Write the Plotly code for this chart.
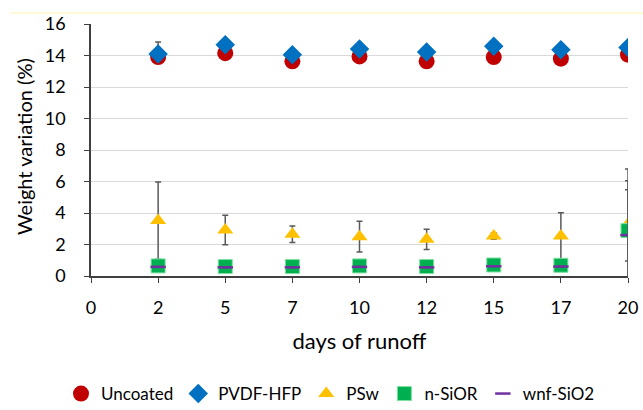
import plotly.graph_objects as go

# ---- data ----
day_labels = ["0", "2", "5", "7", "10", "12", "15", "17", "20"]
days = ["2", "5", "7", "10", "12", "15", "17", "20"]

uncoated = [13.90, 14.15, 13.63, 13.94, 13.63, 13.90, 13.80, 14.05]

pvdf = [14.10, 14.68, 14.05, 14.41, 14.22, 14.58, 14.37, 14.51]
pvdf_err_plus = [0.75, 0.05, 0.05, 0.05, 0.05, 0.05, 0.05, 0.05]
pvdf_err_minus = [0.0, 0.0, 0.0, 0.0, 0.0, 0.0, 0.0, 0.0]

psw = [3.52, 2.92, 2.65, 2.50, 2.33, 2.54, 2.54, 3.28]
psw_err = [2.45, 0.94, 0.53, 0.97, 0.64, 0.2, 1.48, 3.52]

nsior = [0.64, 0.60, 0.60, 0.64, 0.60, 0.70, 0.68, 2.88]
nsior_err_plus = [0.05, 0.05, 0.05, 0.05, 0.05, 0.05, 0.05, 3.16]
nsior_err_minus = [0.05, 0.05, 0.05, 0.05, 0.05, 0.05, 0.05, 1.93]

wnf = [0.58, 0.55, 0.55, 0.58, 0.55, 0.62, 0.60, 2.60]
wnf_err = [0.03, 0.03, 0.03, 0.03, 0.03, 0.03, 0.03, 2.87]

FONT = "Lato"
ERR_COLOR = "#595959"

fig = go.Figure()

fig.add_trace(go.Scatter(
    x=days, y=uncoated, mode="markers", name="Uncoated",
    marker=dict(symbol="circle", size=16, color="#c00000"),
))
fig.add_trace(go.Scatter(
    x=days, y=pvdf, mode="markers", name="PVDF-HFP",
    marker=dict(symbol="diamond", size=15, color="#0070c0"),
    error_y=dict(type="data", array=pvdf_err_plus, arrayminus=pvdf_err_minus,
                 symmetric=False, color=ERR_COLOR, thickness=1.5, width=3),
))
fig.add_trace(go.Scatter(
    x=days, y=psw, mode="markers", name="PSw",
    marker=dict(symbol="triangle-up", size=14, color="#ffc000"),
    error_y=dict(type="data", array=psw_err, color=ERR_COLOR, thickness=1.5, width=3),
))
fig.add_trace(go.Scatter(
    x=days, y=nsior, mode="markers", name="n-SiOR",
    marker=dict(symbol="square", size=14, color="#00b050",
                line=dict(color="#7fe0a0", width=1)),
    error_y=dict(type="data", array=nsior_err_plus, arrayminus=nsior_err_minus,
                 symmetric=False, color=ERR_COLOR, thickness=1.5, width=3),
))
fig.add_trace(go.Scatter(
    x=days, y=wnf, mode="markers", name="wnf-SiO2",
    marker=dict(symbol="line-ew", size=11, color="#7030a0",
                line=dict(color="#7030a0", width=2.5)),
    error_y=dict(type="data", array=wnf_err, color=ERR_COLOR, thickness=1.5, width=3),
))

fig.update_layout(
    width=643, height=410,
    margin=dict(l=91, r=15, t=24, b=134, autoexpand=False),
    paper_bgcolor="white", plot_bgcolor="white",
    font=dict(family=FONT, color="#000000"),
    showlegend=True,
    legend=dict(orientation="h", x=(61 - 91) / 537, xanchor="left",
                y=(276 - 394) / 252, yanchor="middle",
                font=dict(size=17, family=FONT), itemwidth=30,
                bgcolor="rgba(0,0,0,0)", borderwidth=0),
    annotations=[dict(
        text="Weight variation (%)", textangle=-90,
        xref="paper", yref="paper",
        x=(24 - 91) / 537, y=(276 - 147) / 252,
        xanchor="center", yanchor="middle", showarrow=False,
        font=dict(size=20, family=FONT),
    )],
    shapes=[dict(type="line", xref="paper", yref="paper",
                 x0=(10 - 91) / 537, x1=(643 - 91) / 537,
                 y0=1 + 11 / 252, y1=1 + 11 / 252,
                 line=dict(color="#fff3b0", width=1))],
)

fig.update_xaxes(
    type="category", categoryorder="array", categoryarray=day_labels,
    range=[0, len(day_labels) - 1], dtick=1,
    showline=True, linecolor="#404040", linewidth=1.5,
    ticks="outside", ticklen=5, tickcolor="#404040",
    showgrid=False, zeroline=False,
    tickfont=dict(size=18, family=FONT), ticklabelstandoff=10,
    title=dict(text="days of runoff", font=dict(size=22, family=FONT), standoff=16),
)
fig.update_yaxes(
    range=[0, 16], dtick=2,
    showline=True, linecolor="#404040", linewidth=1.5,
    ticks="outside", ticklen=5, tickcolor="#404040",
    showgrid=True, gridcolor="#d9d9d9", gridwidth=1,
    zeroline=False,
    tickfont=dict(size=18, family=FONT), ticklabelstandoff=15,
)

fig.write_html("out.html", config={"displayModeBar": False},
               post_script="document.body.style.margin='0';")
